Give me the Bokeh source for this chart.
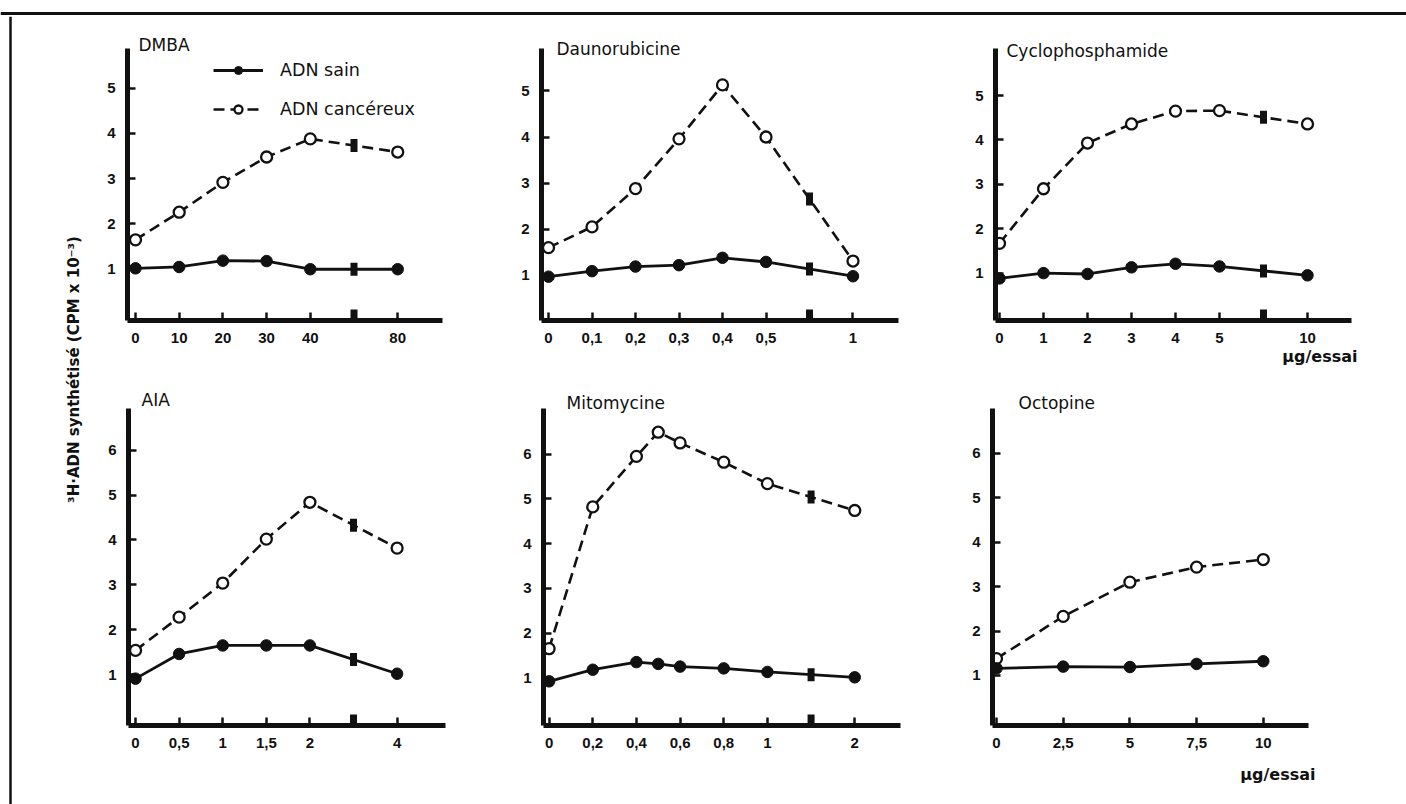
import math
import numpy as np
from bokeh.plotting import figure
from bokeh.layouts import row, column
from bokeh.models import Range1d, FixedTicker, Label, Legend, LegendItem, Span, Title
from bokeh.embed import file_html
from bokeh.resources import INLINE

FONT = "Liberation Sans"
WIDE = "DejaVu Sans"
INK = "#111111"

# ---------------- data (doses in µg/essai, values in CPM x 10^-3) ----------------
dmba_tick_dose = [0, 10, 20, 30, 40, 80]
dmba_tick_pos = [0, 1, 2, 3, 4, 6]
dmba_tick_lab = ["0", "10", "20", "30", "40", "80"]
dmba_break = 5
dmba_dose = [0, 10, 20, 30, 40, 80]
dmba_sain = [1.02, 1.05, 1.19, 1.18, 1.00, 1.00]
dmba_cancer = [1.65, 2.26, 2.92, 3.48, 3.88, 3.59]

dauno_tick_dose = [0, 0.1, 0.2, 0.3, 0.4, 0.5, 1]
dauno_tick_pos = [0, 1, 2, 3, 4, 5, 7]
dauno_tick_lab = ["0", "0,1", "0,2", "0,3", "0,4", "0,5", "1"]
dauno_break = 6
dauno_dose = [0, 0.1, 0.2, 0.3, 0.4, 0.5, 1]
dauno_sain = [0.97, 1.09, 1.19, 1.22, 1.38, 1.29, 0.98]
dauno_cancer = [1.60, 2.05, 2.88, 3.96, 5.13, 4.00, 1.31]

cyclo_tick_dose = [0, 1, 2, 3, 4, 5, 10]
cyclo_tick_pos = [0, 1, 2, 3, 4, 5, 7]
cyclo_tick_lab = ["0", "1", "2", "3", "4", "5", "10"]
cyclo_break = 6
cyclo_dose = [0, 1, 2, 3, 4, 5, 10]
cyclo_sain = [0.88, 1.00, 0.98, 1.13, 1.21, 1.15, 0.95]
cyclo_cancer = [1.67, 2.90, 3.93, 4.36, 4.65, 4.66, 4.36]

aia_tick_dose = [0, 0.5, 1, 1.5, 2, 4]
aia_tick_pos = [0, 1, 2, 3, 4, 6]
aia_tick_lab = ["0", "0,5", "1", "1,5", "2", "4"]
aia_break = 5
aia_dose = [0, 0.5, 1, 1.5, 2, 4]
aia_sain = [0.91, 1.46, 1.65, 1.65, 1.65, 1.02]
aia_cancer = [1.54, 2.28, 3.04, 4.02, 4.84, 3.82]

mito_tick_dose = [0, 0.2, 0.4, 0.6, 0.8, 1, 2]
mito_tick_pos = [0, 1, 2, 3, 4, 5, 7]
mito_tick_lab = ["0", "0,2", "0,4", "0,6", "0,8", "1", "2"]
mito_break = 6
mito_dose = [0, 0.2, 0.4, 0.5, 0.6, 0.8, 1, 2]
mito_sain = [0.92, 1.18, 1.35, 1.31, 1.25, 1.21, 1.13, 1.01]
mito_cancer = [1.65, 4.82, 5.95, 6.49, 6.25, 5.82, 5.34, 4.74]

octo_tick_dose = [0, 2.5, 5, 7.5, 10]
octo_tick_pos = [0, 1, 2, 3, 4]
octo_tick_lab = ["0", "2,5", "5", "7,5", "10"]
octo_break = None
octo_dose = [0, 2.5, 5, 7.5, 10]
octo_sain = [1.16, 1.20, 1.19, 1.26, 1.32]
octo_cancer = [1.38, 2.33, 3.10, 3.44, 3.61]

y_ticks_top = [1, 2, 3, 4, 5]
y_ticks_bottom = [1, 2, 3, 4, 5, 6]

TITLES = ["DMBA", "Daunorubicine", "Cyclophosphamide", "AIA", "Mitomycine", "Octopine"]
LEG_SAIN = "ADN sain"
LEG_CANCER = "ADN cancéreux"
UNIT = "µg/essai"
YLABEL = "³H·ADN synthétisé (CPM x 10⁻³)"


def hidden_fig(w, h):
    f = figure(width=w, height=h, x_range=Range1d(0, w), y_range=Range1d(0, h),
               output_backend="svg", toolbar_location=None,
               x_axis_location=None, y_axis_location=None,
               min_border_left=0, min_border_right=0, min_border_top=0, min_border_bottom=0)
    f.grid.visible = False
    f.outline_line_color = None
    return f


def panel(title, dose, sain, cancer, tdose, tpos, tlab, brk, yticks,
          xr, yr, bl, br, bt, bb, fw, fh, title_off, legend=False, unit=None):
    pos = np.interp(dose, tdose, tpos)
    p = figure(width=bl + fw + br, height=bt + fh + bb,
               x_range=Range1d(*xr), y_range=Range1d(*yr),
               output_backend="svg", toolbar_location=None,
               min_border_left=bl, min_border_right=br,
               min_border_top=bt, min_border_bottom=bb)
    p.grid.visible = False
    p.outline_line_color = None
    p.background_fill_color = "white"
    p.border_fill_color = "white"
    for ax in p.axis:
        ax.axis_line_width = 5
        ax.axis_line_color = INK
        ax.major_tick_in = 8
        ax.major_tick_out = 0
        ax.major_tick_line_width = 2.5
        ax.major_tick_line_color = INK
        ax.minor_tick_line_color = None
        ax.major_label_text_font = FONT
        ax.major_label_text_font_size = "15px"
        ax.major_label_text_font_style = "bold"
        ax.major_label_text_color = INK
    p.xaxis.ticker = FixedTicker(ticks=list(tpos))
    p.xaxis.major_label_overrides = {int(t): l for t, l in zip(tpos, tlab)}
    p.xaxis.major_label_standoff = 12
    p.yaxis.ticker = FixedTicker(ticks=yticks)
    p.yaxis.major_label_standoff = 12

    lc = p.line(pos, cancer, line_color=INK, line_width=2.6, line_dash="11 6")
    ls = p.line(pos, sain, line_color=INK, line_width=2.8)
    if brk is not None:
        bys = [float(np.interp(brk, pos, v)) for v in (sain, cancer)]
        p.rect(x=[brk, brk], y=bys, width=7, height=13,
               width_units="screen", height_units="screen",
               fill_color=INK, line_color=None)
        p.rect(x=[brk], y=[yr[0]], width=7, height=22,
               width_units="screen", height_units="screen",
               fill_color=INK, line_color=None)
    sc = p.scatter(pos, cancer, size=11, marker="circle", fill_color="white",
                   line_color=INK, line_width=2.3)
    ss = p.scatter(pos, sain, size=11.5, marker="circle", fill_color=INK,
                   line_color=INK, line_width=1)

    p.title.text = title
    p.title.align = "left"
    p.title.offset = title_off[0]
    p.title.standoff = title_off[1]
    p.title.text_font = WIDE
    p.title.text_font_size = "17px"
    p.title.text_font_style = "normal"
    p.title.text_color = INK

    if unit is not None:
        p.add_layout(Title(text=UNIT, align="right", offset=unit[0], standoff=unit[1],
                           vertical_align="top",
                           text_font=WIDE, text_font_size="16px",
                           text_font_style="bold", text_color=INK), "below")
    if legend:
        leg = Legend(items=[LegendItem(label=LEG_SAIN, renderers=[ls, ss]),
                            LegendItem(label=LEG_CANCER, renderers=[lc, sc])],
                     location=(86, 201), glyph_width=50, glyph_height=20,
                     label_height=20, label_standoff=17, spacing=19, padding=0,
                     margin=0, border_line_color=None, background_fill_alpha=0,
                     label_text_font=WIDE, label_text_font_size="17.5px",
                     label_text_color=INK)
        p.add_layout(leg)
    return p


# row 1: frames 48..320 ; row 2: frames 408..725
p1 = panel(TITLES[0], dmba_dose, dmba_sain, dmba_cancer, dmba_tick_dose, dmba_tick_pos,
           dmba_tick_lab, dmba_break, y_ticks_top, (-0.183, 7.025), (-0.133, 5.878),
           37, 59, 32, 50, 315, 272, (11, -12), legend=True)
p2 = panel(TITLES[1], dauno_dose, dauno_sain, dauno_cancer, dauno_tick_dose, dauno_tick_pos,
           dauno_tick_lab, dauno_break, y_ticks_top, (-0.161, 8.046), (0.02, 5.92),
           40, 57, 32, 50, 357, 272, (15, -20))
p3 = panel(TITLES[2], cyclo_dose, cyclo_sain, cyclo_cancer, cyclo_tick_dose, cyclo_tick_pos,
           cyclo_tick_lab, cyclo_break, y_ticks_top, (-0.091, 8.0), (-0.068, 6.06),
           40, 55, 32, 50, 356, 272, (11, -24), unit=(-6, 2))
p4 = panel(TITLES[3], aia_dose, aia_sain, aia_cancer, aia_tick_dose, aia_tick_pos,
           aia_tick_lab, aia_break, y_ticks_bottom, (-0.161, 7.11), (-0.134, 6.93),
           38, 58, 38, 79, 317, 317, (13, -2))
p5 = panel(TITLES[4], mito_dose, mito_sain, mito_cancer, mito_tick_dose, mito_tick_pos,
           mito_tick_lab, mito_break, y_ticks_bottom, (-0.128, 8.048), (-0.067, 7.02),
           40, 52, 38, 79, 357, 317, (23, -8))
p6 = panel(TITLES[5], octo_dose, octo_sain, octo_cancer, octo_tick_dose, octo_tick_pos,
           octo_tick_lab, octo_break, y_ticks_bottom, (-0.06, 4.678), (-0.126, 7.01),
           40, 98, 38, 79, 316, 317, (26, -8), unit=(-7, 28))

top = hidden_fig(1406, 16)
top.add_layout(Span(location=3, dimension="width", line_color=INK, line_width=3))
left = hidden_fig(90, 788)
left.add_layout(Span(location=10, dimension="height", line_color=INK, line_width=2.5))
left.add_layout(Label(x=73, y=435, angle=math.pi / 2, text=YLABEL, text_font=WIDE,
                      text_font_size="15px", text_font_style="bold", text_color=INK,
                      text_align="center", text_baseline="middle"))

layout = column(top, row(left, column(row(p1, p2, p3), row(p4, p5, p6))))

open("out.html", "w").write(file_html(layout, INLINE))
